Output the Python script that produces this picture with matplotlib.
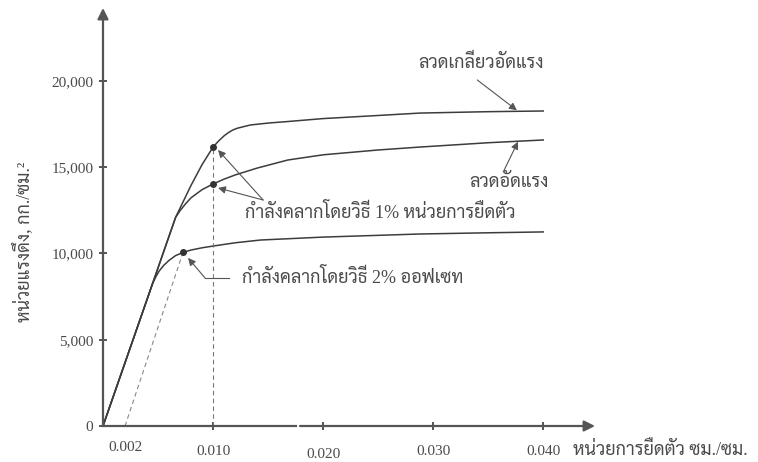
import matplotlib
matplotlib.use("Agg")
import matplotlib.pyplot as plt
from matplotlib.ticker import FuncFormatter

# ---- data (strain cm/cm, stress kg/cm2) ----
strain_strand = [0, 0.0045, 0.0066, 0.0080, 0.0090, 0.0100, 0.0105, 0.0110, 0.0114, 0.0118,
                 0.0122, 0.0127, 0.0134, 0.0150, 0.0168, 0.0200, 0.0250, 0.0288, 0.0350, 0.0400]
stress_strand = [0, 8250, 12100, 13950, 15150, 16170, 16520, 16820, 17010, 17160,
                 17260, 17340, 17450, 17560, 17650, 17820, 18000, 18140, 18220, 18260]

strain_wire = [0, 0.0045, 0.0066, 0.0070, 0.0075, 0.0080, 0.0090, 0.0100, 0.0110, 0.0120,
               0.0140, 0.0168, 0.0200, 0.0250, 0.0288, 0.0350, 0.0400]
stress_wire = [0, 8250, 12100, 12480, 12880, 13230, 13700, 14030, 14310, 14550,
               14950, 15420, 15720, 16000, 16170, 16420, 16580]

strain_bar = [0, 0.0045, 0.0048, 0.0051, 0.0055, 0.0060, 0.0066, 0.00727, 0.0080, 0.0090,
              0.0100, 0.0120, 0.0143, 0.0200, 0.0288, 0.0350, 0.0400]
stress_bar = [0, 8250, 8650, 8980, 9300, 9600, 9880, 10060, 10200, 10330,
              10430, 10620, 10780, 10950, 11130, 11200, 11250]

yield_1pct_strain = 0.010
yield_1pct_stress = [16170, 14030]
yield_2pct = (0.00727, 10060)
offset_start = 0.002

xticks = [0.002, 0.010, 0.020, 0.030, 0.040]
yticks = [0, 5000, 10000, 15000, 20000]

ink = "#3c3c3c"
txt = "#4a4a4a"
tfam = ["Liberation Serif", "Sarabun", "DejaVu Sans"]
tsize = 13

fig = plt.figure(figsize=(7.58, 4.62), dpi=100)
ax = fig.add_axes([103 / 758, 36 / 462, 492 / 758, 418 / 462])
ax.set_xlim(0, 0.0447)
ax.set_ylim(0, 24230)
for s in ax.spines.values():
    s.set_visible(False)

ax.plot(strain_strand, stress_strand, color=ink, lw=1.1)
ax.plot(strain_wire, stress_wire, color=ink, lw=1.1)
ax.plot(strain_bar, stress_bar, color=ink, lw=1.1)

# construction lines
ax.plot([yield_1pct_strain, yield_1pct_strain], [0, yield_1pct_stress[0]],
        color="#777777", lw=0.8, ls=(0, (4, 3)))
ax.plot([offset_start, yield_2pct[0]], [0, yield_2pct[1]],
        color="#888888", lw=0.8, ls=(0, (4, 3)))

ax.plot([yield_1pct_strain] * 2, yield_1pct_stress, "o", color="#333333", ms=4)
ax.plot([yield_2pct[0]], [yield_2pct[1]], "o", color="#333333", ms=4)

# axes with arrows, x axis broken
tr = ax.get_xaxis_transform()
ax.annotate("", xy=(0, 1), xytext=(0, 0), xycoords="axes fraction",
            arrowprops=dict(arrowstyle="-|>", color="#555555", lw=1.6,
                            mutation_scale=16, shrinkA=0, shrinkB=0))
ax.plot([0, 0.01755], [0, 0], color="#555555", lw=1.6, transform=tr, clip_on=False)
ax.annotate("", xy=(0.0447, 0), xytext=(0.0179, 0), xycoords=tr,
            arrowprops=dict(arrowstyle="-|>", color="#555555", lw=1.6,
                            mutation_scale=16, shrinkA=0, shrinkB=0))

ax.set_xticks(xticks)
ax.set_xticklabels([f"{v:.3f}" for v in xticks])
ax.set_yticks(yticks)
ax.yaxis.set_major_formatter(FuncFormatter(lambda v, p: f"{int(v):,}"))
ax.tick_params(direction="inout", length=6, width=1.4, color="#555555",
               labelcolor=txt, labelsize=11, pad=4)
ax.tick_params(axis="x", pad=11)
xt = ax.xaxis.get_major_ticks()
xt[0].tick1line.set_visible(False)
xt[0].set_pad(8)   # scan: labels sit a little uneven
xt[2].set_pad(13)
for lab in ax.get_xticklabels() + ax.get_yticklabels():
    lab.set_family("Liberation Serif")

fig.text(573 / 758, 1 - 450 / 462, "หน่วยการยืดตัว ซม./ซม.", family=tfam, fontsize=tsize,
         color=txt, ha="left", va="center")
fig.text(23 / 758, 1 - 242 / 462, "หน่วยแรงดึง, กก./ซม.²", family=tfam, fontsize=tsize,
         color=txt, ha="center", va="center", rotation=90)

arrow = dict(arrowstyle="-|>", color="#555555", lw=0.8, mutation_scale=11,
             shrinkA=0, shrinkB=0)

ax.text(0.03436, 21040, "ลวดเกลียวอัดแรง", family=tfam, fontsize=tsize, color=txt,
        ha="center", va="center")
ax.annotate("", xy=(0.0376, 18300), xytext=(0.0340, 20060), arrowprops=arrow)

ax.text(0.0369, 14090, "ลวดอัดแรง", family=tfam, fontsize=tsize, color=txt,
        ha="center", va="center")
ax.annotate("", xy=(0.0377, 16480), xytext=(0.03636, 14720), arrowprops=arrow)

ax.text(0.0129, 12350, "กำลังคลากโดยวิธี 1% หน่วยการยืดตัว", family=tfam, fontsize=tsize,
        color=txt, ha="left", va="center")
ax.annotate("", xy=(0.01045, 16000), xytext=(0.01455, 13100), arrowprops=arrow)
ax.annotate("", xy=(0.01045, 13800), xytext=(0.01455, 13100), arrowprops=arrow)

ax.text(0.0126, 8580, "กำลังคลากโดยวิธี 2% ออฟเซท", family=tfam, fontsize=tsize,
        color=txt, ha="left", va="center")
ax.plot([0.01145, 0.00927], [8580, 8580], color="#555555", lw=0.8)
ax.annotate("", xy=(0.00773, 9740), xytext=(0.00927, 8580), arrowprops=arrow)

fig.savefig("out.png", dpi=100)
